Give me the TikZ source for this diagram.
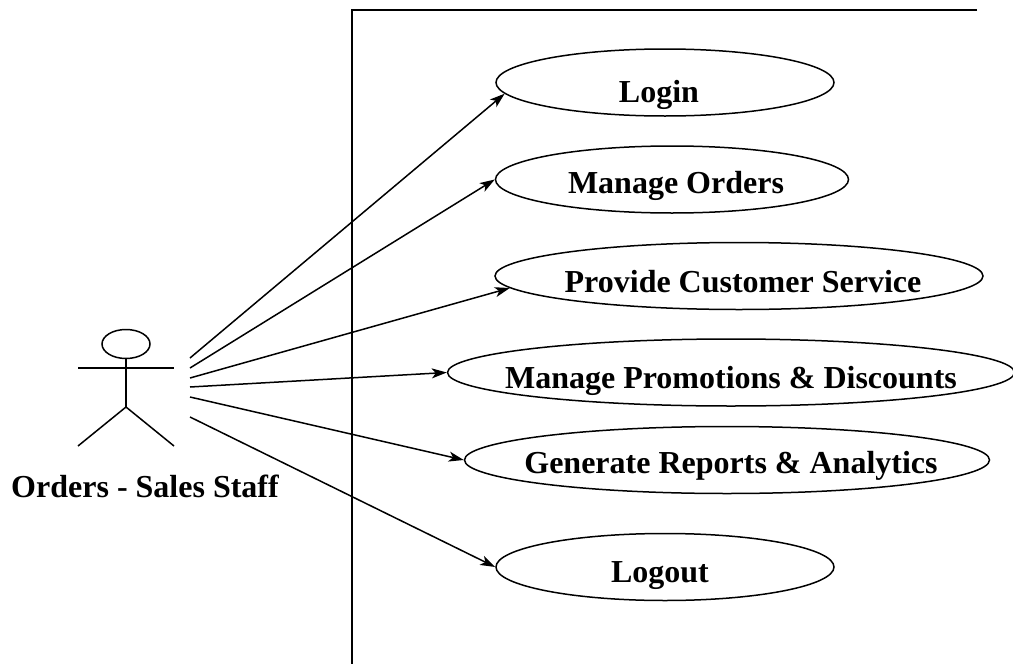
\documentclass[tikz,border=0pt]{standalone}
\usepackage{fontspec}
\setmainfont{Liberation Serif}
\usetikzlibrary{shapes.geometric,arrows.meta}
\tikzset{
  usecase/.style={draw,ellipse,inner sep=0pt,minimum height=67pt},
  caption/.style={font=\fontsize{32}{36}\selectfont\bfseries,inner sep=0pt,anchor=base},
  assoc/.style={-{Stealth[length=15pt,width=10pt,inset=4pt]}},
}
\begin{document}
\begin{tikzpicture}[x=1pt,y=-1pt,line width=1.5pt]
\useasboundingbox (0,0) rectangle (1013,664);
% system boundary
\coordinate (B1) at (977,10);
\coordinate (B2) at (352,10);
\coordinate (B3) at (352,664);
\draw (B1) -- (B2) -- (B3);
% use cases
\node[usecase,minimum width=338pt] (L) at (665,82.5) {};
\node[usecase,minimum width=353pt] (M) at (672,179.5) {};
\node[usecase,minimum width=488pt] (P) at (739,276) {};
\node[usecase,minimum width=567pt] (D) at (731,372.5) {};
\node[usecase,minimum width=525pt] (G) at (727,460) {};
\node[usecase,minimum width=338pt] (O) at (665,567) {};
\node[caption] (Lt) at (659,102) {Login};
\node[caption] (Mt) at (676,193) {Manage Orders};
\node[caption] (Pt) at (743,292.5) {Provide Customer Service};
\node[caption] (Dt) at (731,388) {Manage Promotions \& Discounts};
\node[caption] (Gt) at (731,473) {Generate Reports \& Analytics};
\node[caption] (Ot) at (660,582) {Logout};
% actor
\node[draw,ellipse,minimum width=48pt,minimum height=29pt,inner sep=0pt] (head) at (126,344) {};
\coordinate (hip) at (126,407);
\coordinate (armL) at (78,368);
\coordinate (armR) at (174,368);
\coordinate (footL) at (78,446);
\coordinate (footR) at (174,446);
\draw (head.south) -- (hip);
\draw (armL) -- (armR);
\draw (footL) -- (hip) -- (footR);
\node[caption] (actor) at (145,497) {Orders - Sales Staff};
% associations
\coordinate (a1) at (190,358);
\coordinate (a2) at (190,368);
\coordinate (a3) at (190,378);
\coordinate (a4) at (190,387);
\coordinate (a5) at (190,397);
\coordinate (a6) at (190,417);
\draw[assoc] (a1) -- (L.184);
\draw[assoc] (a2) -- (M.west);
\draw[assoc] (a3) -- (P.183);
\draw[assoc] (a4) -- (D.west);
\draw[assoc] (a5) -- (G.west);
\draw[assoc] (a6) -- (O.west);
\end{tikzpicture}
\end{document}
